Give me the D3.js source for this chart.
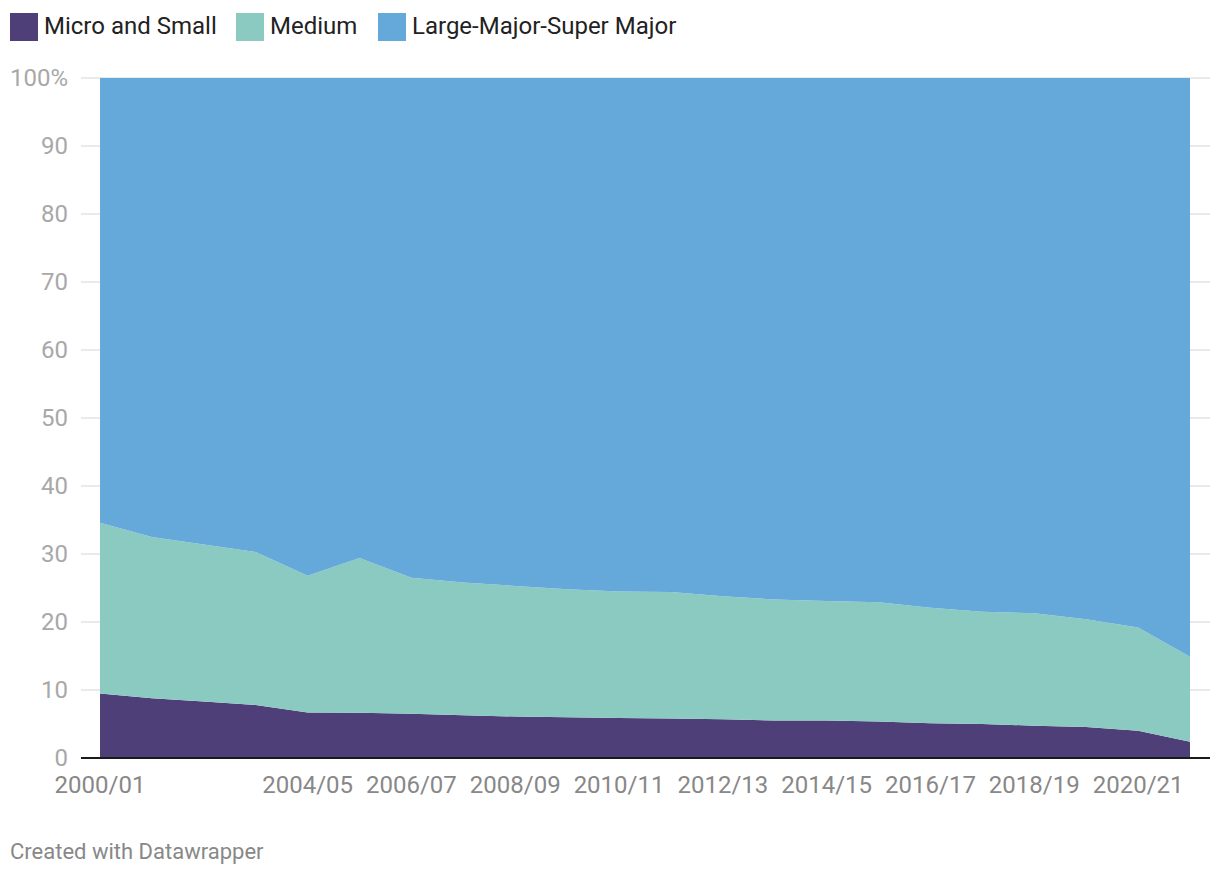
<!DOCTYPE html>
<html><head><meta charset="utf-8">
<script src="https://cdn.jsdelivr.net/npm/d3@7"></script>
<style>
body{margin:0;background:#fff;font-family:Roboto,"Noto Sans",sans-serif;}
</style></head>
<body><svg id="c" width="1220" height="874"></svg>
<script>
const years = ["2000/01","2001/02","2002/03","2003/04","2004/05","2005/06","2006/07","2007/08","2008/09","2009/10","2010/11","2011/12","2012/13","2013/14","2014/15","2015/16","2016/17","2017/18","2018/19","2019/20","2020/21","2021/22"];
const microSmall = [9.5,8.8,8.3,7.8,6.7,6.65,6.5,6.3,6.1,6.0,5.9,5.8,5.7,5.5,5.5,5.35,5.1,5.0,4.75,4.55,4.0,2.4];
const mediumTop  = [34.6,32.5,31.4,30.3,26.8,29.4,26.5,25.8,25.3,24.8,24.5,24.4,23.8,23.3,23.1,22.9,22.1,21.5,21.3,20.4,19.2,14.9];
const medium = mediumTop.map((v,i)=>+(v-microSmall[i]).toFixed(2));
const large = mediumTop.map(v=>+(100-v).toFixed(2));
const seriesNames = ["Micro and Small","Medium","Large-Major-Super Major"];
const colors = ["#4f3f79","#8bcac0","#65a9da"];
const xTickLabels = ["2000/01","2004/05","2006/07","2008/09","2010/11","2012/13","2014/15","2016/17","2018/19","2020/21"];
const yTicks = [0,10,20,30,40,50,60,70,80,90,100];

const svg = d3.select("#c");
const x = d3.scalePoint().domain(years).range([100,1190]);
const y = d3.scaleLinear().domain([0,100]).range([758,78]);

const rows = years.map((yr,i)=>({year:yr, micro:microSmall[i], medium:medium[i], large:large[i]}));
const stack = d3.stack().keys(["micro","medium","large"])(rows);

svg.append("g").selectAll("line").data(yTicks.filter(d=>d>0)).join("line")
  .attr("x1",81).attr("x2",1210).attr("y1",d=>y(d)).attr("y2",d=>y(d))
  .attr("stroke","#e3e3e3").attr("stroke-width",1.5);

const area = d3.area().x(d=>x(d.data.year)).y0(d=>y(d[0])).y1(d=>y(d[1]));
svg.append("g").selectAll("path").data(stack).join("path")
  .attr("d",area).attr("fill",(d,i)=>colors[i]);

svg.append("g").selectAll("text").data(yTicks).join("text")
  .attr("x",68).attr("y",d=>y(d)).attr("dy","0.35em").attr("text-anchor","end")
  .attr("font-size",24).attr("fill","#a8a8a8")
  .text(d=>d===100?"100%":d);

svg.append("line").attr("x1",81).attr("x2",1210).attr("y1",y(0)).attr("y2",y(0))
  .attr("stroke","#1a1a1a").attr("stroke-width",2);

svg.append("g").selectAll("text").data(xTickLabels).join("text")
  .attr("x",d=>x(d)).attr("y",793).attr("text-anchor","middle")
  .attr("font-size",24).attr("fill","#888").text(d=>d);

const legendX = [10,236,378];
const lg = svg.append("g").selectAll("g").data(seriesNames).join("g")
  .attr("transform",(d,i)=>`translate(${legendX[i]},13)`);
lg.append("rect").attr("width",28).attr("height",28).attr("fill",(d,i)=>colors[i]);
lg.append("text").attr("x",34).attr("y",13).attr("dy","0.35em")
  .attr("font-size",24).attr("fill","#222").text(d=>d);

svg.append("text").attr("x",10).attr("y",851).attr("dy","0.35em")
  .attr("font-size",22).attr("fill","#888").text("Created with Datawrapper");
</script></body></html>
